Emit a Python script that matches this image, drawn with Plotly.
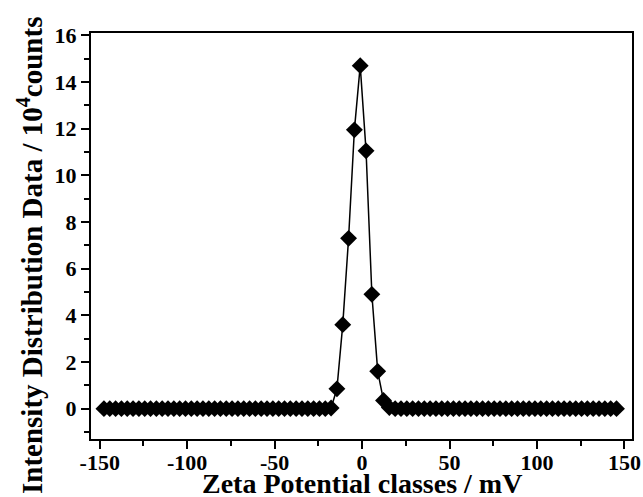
import plotly.graph_objects as go

zeta_mv = [
    -147.60, -144.27, -140.94, -137.61, -134.28, -130.95, -127.62, -124.29, -120.96, -117.63,
    -114.30, -110.97, -107.64, -104.31, -100.98, -97.65, -94.32, -90.99, -87.66, -84.33,
    -81.00, -77.67, -74.34, -71.01, -67.68, -64.35, -61.02, -57.69, -54.36, -51.03,
    -47.70, -44.37, -41.04, -37.71, -34.38, -31.05, -27.72, -24.39, -21.06, -17.73,
    -14.40, -11.07, -7.74, -4.41, -1.08, 2.25, 5.58, 8.91, 12.24, 15.57,
    18.90, 22.23, 25.56, 28.89, 32.22, 35.55, 38.88, 42.21, 45.54, 48.87,
    52.20, 55.53, 58.86, 62.19, 65.52, 68.85, 72.18, 75.51, 78.84, 82.17,
    85.50, 88.83, 92.16, 95.49, 98.82, 102.15, 105.48, 108.81, 112.14, 115.47,
    118.80, 122.13, 125.46, 128.79, 132.12, 135.45, 138.78, 142.11, 145.44,
]

intensity = [
    0, 0, 0, 0, 0, 0, 0, 0, 0, 0,
    0, 0, 0, 0, 0, 0, 0, 0, 0, 0,
    0, 0, 0, 0, 0, 0, 0, 0, 0, 0,
    0, 0, 0, 0, 0, 0, 0, 0, 0, 0.03,
    0.85, 3.6, 7.3, 11.95, 14.7, 11.05, 4.9, 1.6, 0.35, 0.05,
    0, 0, 0, 0, 0, 0, 0, 0, 0, 0,
    0, 0, 0, 0, 0, 0, 0, 0, 0, 0,
    0, 0, 0, 0, 0, 0, 0, 0, 0, 0,
    0, 0, 0, 0, 0, 0, 0, 0, 0,
]

x_ticks = [-150, -100, -50, 0, 50, 100, 150]
x_tick_labels = ["-150", "-100", "-50", "0", "50", "100", "150"]
y_ticks = [0, 2, 4, 6, 8, 10, 12, 14, 16]
y_tick_labels = ["0", "2", "4", "6", "8", "10", "12", "14", "16"]

x_title = "Zeta Potential classes / mV"
y_title = "Intensity Distribution Data / 10<sup>4</sup>counts"

FONT = "Times New Roman, Liberation Serif, serif"

fig = go.Figure()
fig.add_trace(go.Scatter(
    x=zeta_mv, y=intensity, mode="lines+markers",
    line=dict(color="black", width=1.5),
    marker=dict(symbol="diamond", size=13, color="black"),
    showlegend=False,
))

axis_common = dict(
    showline=True, linecolor="black", linewidth=2, mirror=True,
    ticks="outside", tickcolor="black", tickwidth=2, ticklen=8,
    showgrid=False, zeroline=False, automargin=False,
    tickfont=dict(family=FONT, size=22, color="black", weight="bold"),
)

fig.update_xaxes(
    range=[-155, 154.3], tickvals=x_ticks, ticktext=x_tick_labels,
    ticklabelstandoff=-5,
    minor=dict(dtick=25, tick0=0, ticks="outside", ticklen=5, tickwidth=2, tickcolor="black"),
    **axis_common,
)
fig.update_yaxes(
    range=[-1.3, 16.1], tickvals=y_ticks, ticktext=y_tick_labels,
    minor=dict(dtick=1, tick0=0, ticks="outside", ticklen=5, tickwidth=2, tickcolor="black"),
    **axis_common,
)

L, R, T, B = 91, 11, 33, 58
W, H = 643, 497
pw, ph = W - L - R, H - T - B

fig.add_annotation(
    text=x_title, xref="paper", yref="paper",
    x=0.5, y=(439 - 483) / ph, xanchor="center", yanchor="middle",
    showarrow=False,
    font=dict(family=FONT, size=28, color="black", weight="bold"),
)
fig.add_annotation(
    text=y_title, xref="paper", yref="paper",
    x=(30 - L) / pw, y=(439 - 256) / ph, xanchor="center", yanchor="middle",
    textangle=-90, showarrow=False,
    font=dict(family=FONT, size=29, color="black", weight="bold"),
)

fig.update_layout(
    width=W, height=H,
    margin=dict(l=L, r=R, t=T, b=B),
    paper_bgcolor="white", plot_bgcolor="white",
)

fig.write_html(
    "out.html",
    config={"displayModeBar": False},
    post_script="document.body.style.margin='0';document.body.style.overflow='hidden';",
)
